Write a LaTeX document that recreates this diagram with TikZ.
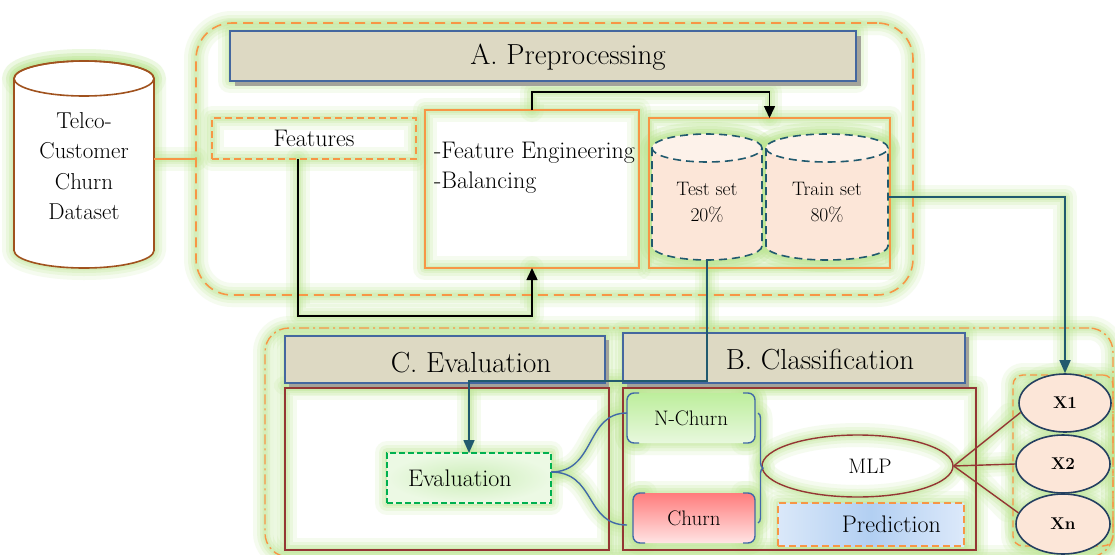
\documentclass[tikz,border=0pt]{standalone}
\usetikzlibrary{arrows.meta,decorations.pathreplacing,shapes.geometric}

\definecolor{orangeA}{HTML}{F79646}
\definecolor{glowc}{HTML}{BFE796}
\definecolor{titlefill}{HTML}{DDD9C3}
\definecolor{titleline}{HTML}{44679F}
\definecolor{shadowc}{HTML}{A3A39A}
\definecolor{darkred}{HTML}{943634}
\definecolor{tealline}{HTML}{215A6E}
\definecolor{peach}{HTML}{FCE6D8}
\definecolor{peachlight}{HTML}{FDF2EA}
\definecolor{navy}{HTML}{243F60}
\definecolor{bluecurve}{HTML}{4169A8}
\definecolor{cylbrown}{HTML}{A0521E}
\definecolor{evgreen}{HTML}{00B050}

\newcommand\titlefont{\fontsize{29}{32}\selectfont}
\newcommand\bodyfont{\fontsize{24}{28}\selectfont}
\newcommand\classfont{\fontsize{21}{25}\selectfont}
\newcommand\setfont{\fontsize{19.5}{26}\selectfont}
\newcommand\xfont{\fontsize{17}{19}\selectfont\bfseries}

% glow passes draw every outline as a soft green halo, the last pass draws the real looks
\newif\ifglowpass
\newcommand\glowwidth{16pt}
\newcommand\glowop{0.3}

\tikzset{
  glowmode/.style={draw=glowc, line width=\glowwidth, draw opacity=\glowop, solid,
    fill=none, text opacity=0, line cap=round, line join=round, arrows=-},
  looks/.code={\ifglowpass\tikzset{glowmode}\else\tikzset{#1}\fi},
  txt/.code={\ifglowpass\tikzset{text opacity=0}\fi},
  box/.style={rectangle, inner sep=0pt, outer sep=0pt},
  contA/.style={draw=orangeA, line width=1.6pt, dash pattern=on 10pt off 6pt},
  contBC/.style={draw=orangeA, line width=1.4pt, dash pattern=on 10pt off 4pt on 2pt off 4pt},
  titlelook/.style={draw=titleline, line width=1.6pt, fill=titlefill},
  orangedash/.style={draw=orangeA, line width=1.5pt, dash pattern=on 7pt off 4pt},
  orangebox/.style={draw=orangeA, line width=1.6pt},
  orangeline/.style={draw=orangeA, line width=1.6pt},
  redbox/.style={draw=darkred, line width=1.6pt},
  telcocyl/.style={draw=cylbrown, line width=1.6pt, fill=white},
  telcorim/.style={draw=cylbrown, line width=1.6pt},
  cylfill/.style={fill=peach},
  cylside/.style={draw=tealline, line width=1.6pt, dash pattern=on 8pt off 5pt},
  cyltop/.style={draw=tealline, line width=1.6pt, dash pattern=on 8pt off 5pt, fill=peachlight},
  evallook/.style={draw=evgreen, line width=1.4pt, dash pattern=on 6pt off 3pt,
    inner color={rgb,255:red,205;green,238;blue,185}, outer color={rgb,255:red,236;green,249;blue,228}},
  nchurnlook/.style={top color={rgb,255:red,189;green,238;blue,156}, bottom color={rgb,255:red,232;green,248;blue,222}},
  churnlook/.style={top color={rgb,255:red,255;green,124;blue,124}, bottom color={rgb,255:red,255;green,228;blue,228}},
  bracketlook/.style={draw=bluecurve, line width=1.4pt},
  curvelook/.style={draw=bluecurve, line width=1.4pt},
  mlplook/.style={draw=darkred, line width=1.4pt},
  predlook/.style={draw=orangeA, line width=1.4pt, dash pattern=on 7pt off 4pt,
    left color={rgb,255:red,218;green,232;blue,249}, right color={rgb,255:red,220;green,233;blue,250},
    middle color={rgb,255:red,178;green,207;blue,242}},
  xgroup/.style={draw=orangeA, line width=1.4pt, dash pattern=on 7pt off 4pt},
  xlook/.style={draw=navy, line width=1.6pt, fill=peach},
  mlpedge/.style={draw=darkred, line width=1.4pt},
  blackarrow/.style={draw=black, line width=1.5pt, -{Triangle[width=11pt,length=12pt]}},
  tealarrow/.style={draw=tealline, line width=1.6pt, -{Triangle[width=11pt,length=13pt]}},
}

\newcommand\drawstages{%
  % stage containers
  \node[box, minimum width=717pt, minimum height=272pt, rounded corners=36pt, looks=contA] (stageA) at (554.5,-159) {};
  \node[box, minimum width=848pt, minimum height=229pt, rounded corners=24pt, looks=contBC] (stageBC) at (689,-442.5) {};
  % dataset cylinder
  \path[looks=telcocyl] (14,-78.5) -- (14,-250.5)
    arc[start angle=180, end angle=360, x radius=70pt, y radius=17.5pt] -- (154,-78.5)
    arc[start angle=0, end angle=180, x radius=70pt, y radius=17.5pt] -- cycle;
  \path[looks=telcorim] (84,-78.5) ellipse[x radius=70pt, y radius=17.5pt];
  \node[txt, align=center, font=\fontsize{23}{30.5}\selectfont] (telco) at (84,-166) {Telco-\\Customer\\Churn\\Dataset};
  \coordinate (telcoE) at (154,-159);
  \draw[looks=orangeline] (telcoE) -- (telcoE -| stageA.west);
  % A. Preprocessing
  \ifglowpass\else
    \fill[shadowc] (235,-36) rectangle (861,-86);
    \fill[shadowc] (289,-340) rectangle (609,-387);
    \fill[shadowc] (627,-337) rectangle (969,-387);
  \fi
  \node[box, minimum width=626pt, minimum height=50pt, looks=titlelook] (titleA) at (543,-56) {};
  \node[txt, font=\titlefont] (titleAtext) at (568,-57) {A. Preprocessing};
  \node[box, minimum width=204pt, minimum height=41pt, font=\bodyfont, looks=orangedash] (features) at (314,-138.5) {Features};
  \node[box, minimum width=214pt, minimum height=158pt, looks=orangebox] (fe) at (532,-189) {};
  \node[txt, anchor=west, inner sep=0pt, align=left, font=\fontsize{24}{30}\selectfont] (fetext) at (434,-168) {-Feature Engineering\\-Balancing};
  \node[box, minimum width=241pt, minimum height=150pt, looks=orangebox] (split) at (769.5,-193) {};
  % test and train cylinders
  \path[looks=cylfill] (652,-148) -- (652,-246)
    arc[start angle=180, end angle=360, x radius=55pt, y radius=14pt] -- (762,-148)
    arc[start angle=0, end angle=180, x radius=55pt, y radius=14pt] -- cycle;
  \path[looks=cylside] (652,-148) -- (652,-246)
    arc[start angle=180, end angle=360, x radius=55pt, y radius=14pt] -- (762,-148);
  \path[looks=cyltop] (707,-148) ellipse[x radius=55pt, y radius=14pt];
  \path[looks=cylfill] (766,-148) -- (766,-246)
    arc[start angle=180, end angle=360, x radius=61pt, y radius=14pt] -- (888,-148)
    arc[start angle=0, end angle=180, x radius=61pt, y radius=14pt] -- cycle;
  \path[looks=cylside] (766,-148) -- (766,-246)
    arc[start angle=180, end angle=360, x radius=61pt, y radius=14pt] -- (888,-148);
  \path[looks=cyltop] (827,-148) ellipse[x radius=61pt, y radius=14pt];
  \node[txt, align=center, font=\setfont] (testtext) at (707,-202) {Test set\\20\%};
  \node[txt, align=center, font=\setfont] (traintext) at (827,-202) {Train set\\80\%};
  \coordinate (testB) at (707,-260);
  \coordinate (trainE) at (888,-197);
  % C. Evaluation and B. Classification
  \node[box, minimum width=320pt, minimum height=47pt, looks=titlelook] (titleC) at (445,-359.5) {};
  \node[txt, font=\titlefont] (titleCtext) at (471,-363) {C. Evaluation};
  \node[box, minimum width=342pt, minimum height=50pt, looks=titlelook] (titleB) at (794,-358) {};
  \node[txt, font=\titlefont] (titleBtext) at (820,-360) {B. Classification};
  \node[box, minimum width=324pt, minimum height=162pt, looks=redbox] (evalpanel) at (447,-469) {};
  \node[box, minimum width=353pt, minimum height=162pt, looks=redbox] (clspanel) at (799.5,-469) {};
  \node[box, minimum width=164pt, minimum height=50pt, inner xsep=21pt, text width=122pt, align=left,
    font=\bodyfont, looks=evallook] (eval) at (469,-478) {Evaluation};
  \node[box, minimum width=128pt, minimum height=50pt, rounded corners=7pt, font=\classfont, looks=nchurnlook] (nchurn) at (691,-418) {N-Churn};
  \node[box, minimum width=122pt, minimum height=50pt, rounded corners=7pt, font=\classfont, looks=churnlook] (churn) at (694,-518) {Churn};
  \foreach \n in {nchurn,churn}{
    \draw[looks=bracketlook, rounded corners=7pt] ([xshift=12pt]\n.north west) -- (\n.north west) -- (\n.south west) -- ([xshift=12pt]\n.south west);
    \draw[looks=bracketlook, rounded corners=7pt] ([xshift=-12pt]\n.north east) -- (\n.north east) -- (\n.south east) -- ([xshift=-12pt]\n.south east);
  }
  \node[ellipse, minimum width=191pt, minimum height=62pt, inner sep=0pt, looks=mlplook] (mlp) at (857.5,-466) {};
  \node[txt, font=\classfont] (mlptext) at (870,-466) {MLP};
  \node[box, minimum width=186pt, minimum height=43pt, inner xsep=23pt, text width=140pt, align=right,
    font=\bodyfont, looks=predlook] (pred) at (871,-524.5) {Prediction};
  \node[box, minimum width=100pt, minimum height=171pt, rounded corners=10pt, looks=xgroup] (xgroup) at (1063,-460.5) {};
  \node[ellipse, minimum width=92pt, minimum height=58pt, inner sep=0pt, font=\xfont, looks=xlook] (X1) at (1065,-403) {X1};
  \node[ellipse, minimum width=94pt, minimum height=58pt, inner sep=0pt, font=\xfont, looks=xlook] (X2) at (1063,-464) {X2};
  \node[ellipse, minimum width=94pt, minimum height=60pt, inner sep=0pt, font=\xfont, looks=xlook] (Xn) at (1063,-524) {Xn};
  % connectors
  \draw[looks=mlpedge] (mlp.east) -- (X1.192);
  \draw[looks=mlpedge] (mlp.east) -- (X2.west);
  \draw[looks=mlpedge] (mlp.east) -- (Xn.166);
  \draw[looks=bracketlook, decorate, decoration={brace, amplitude=5pt}]
    ([xshift=3pt,yshift=5pt]nchurn.east) -- ([xshift=3pt,yshift=-5pt]churn.east);
  \draw[looks=curvelook] ([yshift=6pt]eval.east) .. controls +(45,0) and +(-42,0) .. ([yshift=5pt]nchurn.west);
  \draw[looks=curvelook] ([yshift=6pt]eval.east) .. controls +(45,0) and +(-42,0) .. ([xshift=-6pt,yshift=-7pt]churn.west);
  \draw[looks=blackarrow] ([xshift=-16pt]features.south) -- ++(0,-157) -| (fe.south);
  \draw[looks=blackarrow] (fe.north) -- ++(0,18) -| (split.north);
  \draw[looks=tealarrow] (trainE) -| (X1.north);
  \draw[looks=tealarrow] (testB) -- ++(0,-121) -| (eval.north);
}

\begin{document}
\begin{tikzpicture}[x=1pt,y=1pt]
\useasboundingbox (0,0) rectangle (1115,-554);
\fill[white] (0,0) rectangle (1115,-554);
\glowpasstrue
\renewcommand\glowwidth{24pt}\renewcommand\glowop{0.15}
\drawstages
\renewcommand\glowwidth{16pt}\renewcommand\glowop{0.2}
\drawstages
\renewcommand\glowwidth{10pt}\renewcommand\glowop{0.25}
\drawstages
\renewcommand\glowwidth{5pt}\renewcommand\glowop{0.3}
\drawstages
\glowpassfalse
\drawstages
\end{tikzpicture}
\end{document}
